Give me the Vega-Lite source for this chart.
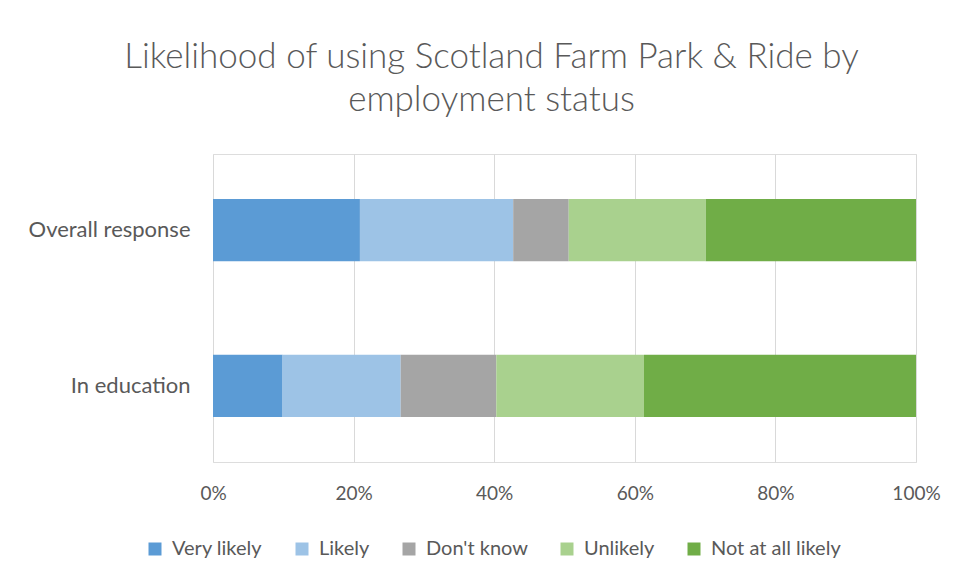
{
  "$schema": "https://vega.github.io/schema/vega-lite/v6.json",
  "width": 703,
  "height": 308,
  "autosize": "none",
  "padding": {"left": 213, "top": 154, "right": 42, "bottom": 119},
  "background": "white",
  "title": {
    "text": ["Likelihood of using Scotland Farm Park & Ride by", "employment status"],
    "font": "Lato",
    "fontSize": 35,
    "fontWeight": 300,
    "color": "#595959",
    "anchor": "middle",
    "dx": -73,
    "lineHeight": 43,
    "offset": 36
  },
  "data": {
    "values": [
      {"status": "Overall response", "response": "Very likely", "ord": 1, "pct": 20.9},
      {"status": "Overall response", "response": "Likely", "ord": 2, "pct": 21.8},
      {"status": "Overall response", "response": "Don't know", "ord": 3, "pct": 7.9},
      {"status": "Overall response", "response": "Unlikely", "ord": 4, "pct": 19.5},
      {"status": "Overall response", "response": "Not at all likely", "ord": 5, "pct": 29.9},
      {"status": "In education", "response": "Very likely", "ord": 1, "pct": 9.9},
      {"status": "In education", "response": "Likely", "ord": 2, "pct": 16.8},
      {"status": "In education", "response": "Don't know", "ord": 3, "pct": 13.6},
      {"status": "In education", "response": "Unlikely", "ord": 4, "pct": 21.0},
      {"status": "In education", "response": "Not at all likely", "ord": 5, "pct": 38.7}
    ]
  },
  "mark": {"type": "bar"},
  "encoding": {
    "y": {
      "field": "status",
      "type": "nominal",
      "sort": ["Overall response", "In education"],
      "scale": {"paddingInner": 0.6, "paddingOuter": 0.29},
      "axis": {
        "title": null,
        "labelFont": "Lato",
        "labelFontSize": 22,
        "labelColor": "#595959",
        "ticks": false,
        "domain": false,
        "labelPadding": 23,
        "labelLimit": 250
      }
    },
    "x": {
      "field": "pct",
      "type": "quantitative",
      "stack": "normalize",
      "scale": {"domain": [0, 1], "nice": false},
      "axis": {
        "title": null,
        "format": ".0%",
        "values": [0, 0.2, 0.4, 0.6, 0.8, 1],
        "grid": true,
        "gridColor": "#d9d9d9",
        "gridWidth": 1,
        "domain": false,
        "ticks": false,
        "labelPadding": 22,
        "labelFont": "Lato",
        "labelFontSize": 19,
        "labelColor": "#595959",
        "labelFlush": false
      }
    },
    "color": {
      "field": "response",
      "type": "nominal",
      "scale": {
        "domain": ["Very likely", "Likely", "Don't know", "Unlikely", "Not at all likely"],
        "range": ["#5B9BD5", "#9DC3E6", "#A5A5A5", "#A9D18E", "#70AD47"]
      },
      "legend": {
        "title": null,
        "orient": "none",
        "direction": "horizontal",
        "legendX": -68,
        "legendY": 385,
        "symbolType": "square",
        "symbolSize": 169,
        "symbolStrokeWidth": 0,
        "labelFont": "Lato",
        "labelFontSize": 20,
        "labelColor": "#595959",
        "labelOffset": 7,
        "columnPadding": 29,
        "labelLimit": 250
      }
    },
    "order": {"field": "ord", "type": "quantitative"}
  }
}
